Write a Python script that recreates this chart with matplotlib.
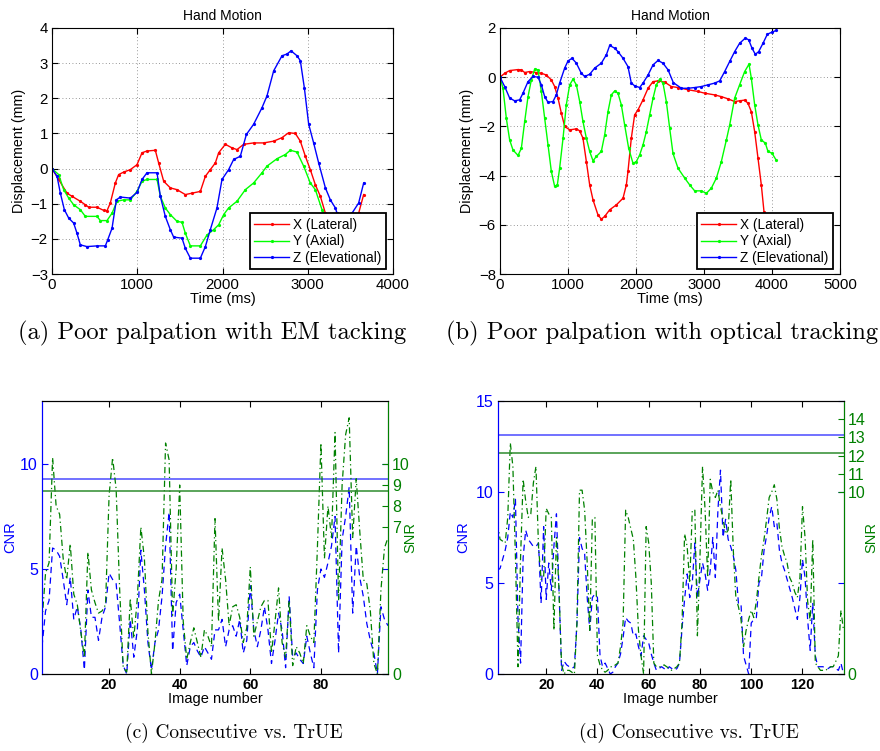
import matplotlib
matplotlib.use("Agg")
import matplotlib.pyplot as plt
import numpy as np

plt.rcParams['font.family'] = ['Liberation Sans', 'DejaVu Sans']

# ---------------- Panel (a): EM tracking ----------------
a_t_x = [0, 78, 176, 235, 332, 391, 430, 528, 606, 645, 684, 743, 782, 841, 919, 997, 1056, 1114, 1212, 1251,
         1310, 1388, 1466, 1564, 1642, 1740, 1799, 1857, 1916, 1955, 2033, 2111, 2170, 2248, 2365, 2483, 2600,
         2698, 2776, 2854, 2913, 2972, 3030, 3089, 3148, 3207, 3300, 3450, 3550, 3597, 3656]
a_x = [0, -0.31, -0.70, -0.79, -0.93, -1.03, -1.10, -1.10, -1.19, -1.20, -0.98, -0.41, -0.17, -0.10, -0.03, 0.11,
       0.45, 0.50, 0.52, 0.16, -0.36, -0.55, -0.60, -0.74, -0.70, -0.65, -0.22, -0.03, 0.16, 0.45, 0.69, 0.59,
       0.54, 0.69, 0.73, 0.73, 0.78, 0.88, 1.02, 1.00, 0.78, 0.35, -0.03, -0.46, -0.79, -1.27, -1.60, -1.80,
       -1.60, -1.27, -0.74]
a_t_y = [0, 78, 137, 196, 254, 332, 391, 528, 567, 645, 704, 763, 841, 919, 997, 1056, 1114, 1232, 1271, 1329,
         1388, 1466, 1525, 1564, 1623, 1740, 1818, 1896, 1955, 2014, 2072, 2170, 2268, 2365, 2463, 2522, 2639,
         2737, 2796, 2874, 2952, 3030, 3089, 3167, 3250, 3350]
a_y = [0, -0.17, -0.60, -0.84, -1.03, -1.17, -1.36, -1.36, -1.48, -1.48, -1.27, -0.93, -0.89, -0.89, -0.65,
       -0.36, -0.31, -0.31, -0.79, -1.12, -1.31, -1.50, -1.53, -1.84, -2.20, -2.20, -1.89, -1.74, -1.60, -1.31,
       -1.12, -0.93, -0.60, -0.41, -0.12, 0.07, 0.28, 0.40, 0.52, 0.47, 0.07, -0.41, -0.60, -1.17, -1.60, -1.90]
a_t_z = [0, 59, 98, 145, 196, 254, 293, 332, 410, 528, 626, 653, 704, 755, 802, 919, 997, 1056, 1114, 1232,
         1271, 1329, 1388, 1427, 1525, 1564, 1623, 1740, 1799, 1857, 1935, 1994, 2072, 2131, 2209, 2280, 2365,
         2463, 2522, 2600, 2698, 2757, 2804, 2874, 2913, 2960, 3011, 3069, 3128, 3207, 3265, 3324, 3343, 3430,
         3519, 3597, 3656]
a_z = [0, -0.22, -0.70, -1.17, -1.41, -1.55, -1.84, -2.17, -2.22, -2.20, -2.20, -2.03, -1.70, -0.89, -0.81,
       -0.84, -0.68, -0.31, -0.12, -0.12, -0.79, -1.36, -1.74, -1.95, -1.98, -2.27, -2.55, -2.55, -2.22, -1.74,
       -1.12, -0.31, -0.03, 0.26, 0.35, 0.97, 1.26, 1.73, 2.07, 2.78, 3.21, 3.26, 3.35, 3.21, 3.07, 2.30, 1.26,
       0.73, 0.16, -0.55, -0.89, -1.12, -1.27, -1.50, -1.27, -0.98, -0.41]

# ---------------- Panel (b): optical tracking ----------------
b_t_x = [0, 69, 142, 265, 314, 363, 436, 534, 608, 681, 755, 804, 853, 902, 951, 1025, 1123, 1172, 1220, 1270,
         1319, 1368, 1441, 1490, 1539, 1613, 1711, 1809, 1858, 1882, 1931, 1980, 2029, 2103, 2177, 2250, 2324,
         2422, 2520, 2618, 2765, 2912, 3010, 3157, 3255, 3353, 3451, 3524, 3598, 3647, 3696, 3745, 3794, 3843,
         3882, 3950]
b_x = [0, 0.16, 0.27, 0.31, 0.30, 0.19, 0.23, 0.19, 0.16, 0.09, -0.11, -0.38, -0.85, -1.46, -2.00, -2.14, -2.10,
       -2.18, -2.48, -3.43, -4.38, -4.99, -5.60, -5.77, -5.66, -5.39, -5.19, -4.92, -4.38, -3.83, -2.48, -1.53,
       -1.33, -0.92, -0.45, -0.18, -0.15, -0.20, -0.38, -0.42, -0.51, -0.58, -0.65, -0.72, -0.79, -0.88, -0.99,
       -0.96, -0.93, -1.06, -1.40, -2.21, -3.29, -4.38, -5.46, -7.30]
b_t_y = [0, 44, 93, 142, 191, 265, 314, 363, 412, 461, 510, 559, 608, 657, 706, 755, 804, 843, 877, 927, 975,
         1025, 1074, 1123, 1172, 1220, 1270, 1319, 1368, 1417, 1490, 1539, 1588, 1637, 1686, 1735, 1784, 1833,
         1892, 1956, 2005, 2054, 2103, 2152, 2201, 2250, 2299, 2348, 2397, 2446, 2495, 2544, 2618, 2716, 2790,
         2863, 2961, 3035, 3108, 3182, 3255, 3329, 3378, 3451, 3524, 3598, 3662, 3696, 3745, 3794, 3843, 3902,
         3941, 4000, 4059]
b_y = [0, -0.45, -1.67, -2.55, -2.96, -3.18, -2.89, -1.80, -0.79, -0.11, 0.33, 0.30, -0.58, -1.67, -2.75, -3.83,
       -4.44, -4.38, -3.70, -2.48, -1.12, -0.31, -0.08, -0.31, -0.99, -1.80, -2.48, -3.02, -3.40, -3.22, -3.02,
       -2.35, -1.40, -0.72, -0.56, -0.65, -1.12, -1.94, -2.89, -3.50, -3.43, -3.16, -2.75, -2.21, -1.53, -0.86,
       -0.31, -0.08, -0.24, -0.99, -2.07, -3.10, -3.70, -4.10, -4.38, -4.62, -4.62, -4.72, -4.51, -4.10, -3.43,
       -2.55, -1.94, -0.85, -0.31, 0.23, 0.53, -0.04, -1.12, -1.94, -2.55, -2.68, -3.02, -3.09, -3.36]
b_t_z = [0, 69, 142, 216, 289, 338, 412, 485, 559, 608, 657, 706, 779, 828, 877, 951, 1000, 1059, 1123, 1196,
         1245, 1319, 1392, 1490, 1564, 1613, 1686, 1735, 1809, 1882, 1931, 1980, 2054, 2103, 2177, 2250, 2324,
         2397, 2471, 2549, 2667, 2765, 2863, 2961, 3059, 3157, 3231, 3304, 3378, 3451, 3524, 3608, 3657, 3706,
         3755, 3804, 3868, 3932, 4000, 4059]
b_z = [0, -0.38, -0.85, -0.96, -0.92, -0.65, -0.18, 0.03, 0.00, -0.31, -0.79, -1.02, -0.99, -0.72, -0.24, 0.37,
       0.66, 0.77, 0.57, 0.16, 0.03, 0.12, 0.37, 0.57, 0.91, 1.29, 1.18, 1.04, 0.77, 0.43, -0.24, -0.35, -0.42,
       -0.24, 0.09, 0.50, 0.68, 0.57, 0.30, -0.22, -0.45, -0.45, -0.42, -0.38, -0.31, -0.24, -0.15, 0.23, 0.64,
       1.04, 1.38, 1.59, 1.52, 1.18, 0.93, 1.04, 1.38, 1.75, 1.83, 1.90]

legend_labels = ['X (Lateral)', 'Y (Axial)', 'Z (Elevational)']

# ---------------- Panel (c) ----------------
c_cnr = [1.3, 3.0, 3.5, 6.0, 5.9, 5.6, 4.5, 3.3, 4.6, 2.6,
         3.2, 2.1, 0.2, 4.0, 2.7, 2.7, 1.6, 2.7, 3.2, 4.8,
         4.5, 4.3, 2.4, 0.4, 0.0, 2.6, 0.8, 2.1, 5.9, 4.0,
         1.5, 0.2, 1.5, 2.1, 3.7, 6.1, 7.7, 1.1, 3.4, 3.8,
         2.1, 0.4, 1.3, 1.5, 1.1, 0.8, 1.3, 1.0, 0.7, 2.1,
         2.1, 2.6, 1.3, 2.1, 2.3, 1.8, 2.6, 1.0, 1.6, 4.2,
         2.1, 1.3, 2.1, 3.2, 2.1, 0.5, 1.6, 2.9, 2.1, 0.3,
         3.7, 0.8, 1.0, 0.7, 0.5, 1.8, 1.0, 0.3, 4.0, 5.0,
         4.6, 5.3, 6.1, 7.5, 1.0, 6.4, 7.5, 8.9, 2.9, 6.1,
         4.6, 3.7, 2.4, 1.6, 1.0, 0.0, 3.2, 2.6, 2.3]
c_snr = [2.5, 4.8, 5.3, 10.3, 8.0, 7.6, 5.5, 4.5, 6.2, 3.8,
         3.3, 2.0, 0.8, 5.8, 4.0, 3.4, 2.9, 3.0, 3.3, 8.5,
         10.3, 8.8, 4.0, 0.3, 0.1, 3.6, 1.7, 3.6, 7.0, 5.5,
         2.0, 0.0, 1.5, 3.5, 4.5, 11.0, 10.2, 2.8, 5.0, 9.0,
         2.5, 0.7, 1.5, 2.2, 1.5, 0.8, 2.1, 1.8, 1.3, 7.4,
         2.5, 6.0, 4.5, 2.3, 3.2, 3.3, 2.7, 1.5, 2.2, 5.1,
         1.8, 2.5, 3.2, 3.5, 3.5, 1.0, 2.5, 4.1, 1.5, 0.8,
         3.5, 0.4, 1.3, 1.0, 0.5, 2.3, 1.8, 1.5, 6.0, 11.0,
         5.5, 8.0, 6.5, 11.5, 3.5, 9.0, 11.4, 12.2, 6.5, 9.3,
         6.8, 4.5, 4.3, 3.0, 0.5, 0.0, 4.0, 6.0, 6.5]
c_cnr_ref = 9.27
c_snr_ref = 8.71

# ---------------- Panel (d) ----------------
d_cnr = [5.7, 5.8, 6.3, 6.8, 7.5, 8.9, 8.6, 9.6, 3.0, 0.6,
         6.4, 7.9, 7.4, 7.2, 7.0, 7.0, 7.2, 3.9, 8.1, 4.1,
         6.1, 4.6, 7.0, 8.8, 4.6, 0.2, 0.7, 0.5, 0.4, 0.3,
         0.4, 2.8, 7.5, 6.9, 6.6, 4.2, 2.4, 4.2, 4.4, 4.2,
         1.0, 0.4, 0.6, 0.3, 0.0, 0.1, 0.4, 0.6, 1.1, 2.0,
         3.1, 2.9, 2.8, 2.1, 2.2, 1.5, 1.0, 2.1, 1.9, 1.7,
         1.1, 0.6, 0.2, 0.3, 0.4, 0.3, 0.2, 0.4, 0.3, 0.2,
         0.3, 0.6, 2.5, 4.1, 5.5, 4.2, 5.0, 7.2, 4.2, 5.2,
         6.1, 5.5, 4.6, 5.7, 7.5, 5.3, 9.0, 11.2, 7.5, 8.5,
         7.4, 7.0, 6.5, 5.7, 3.9, 3.9, 1.0, 0.5, 0.0, 2.8,
         3.0, 3.1, 5.0, 5.3, 6.8, 7.6, 8.6, 9.2, 8.1, 8.3,
         6.8, 6.1, 5.7, 5.2, 4.7, 4.2, 3.6, 3.0, 4.2, 6.3,
         5.3, 3.0, 1.3, 3.9, 1.0, 0.4, 0.4, 0.4, 0.3, 0.3,
         0.4, 0.4, 0.3, 0.2, 0.6, 0.0]
d_snr = [8.3, 7.4, 7.3, 7.2, 8.6, 12.7, 11.4, 6.4, 0.4, 6.4,
         10.7, 9.5, 8.6, 8.8, 10.5, 11.4, 7.0, 5.2, 5.3, 9.1,
         8.8, 8.6, 2.4, 7.5, 4.6, 0.5, 0.0, 0.2, 0.2, 0.1,
         0.0, 2.8, 10.1, 10.1, 9.0, 6.1, 2.4, 8.5, 8.6, 1.0,
         0.5, 0.2, 0.1, 0.2, 0.4, 0.4, 0.5, 0.6, 1.5, 2.8,
         9.0, 8.6, 8.0, 7.4, 5.3, 2.4, 1.0, 0.0, 8.1, 7.2,
         5.0, 0.6, 0.4, 0.4, 0.4, 0.5, 0.4, 0.3, 0.2, 0.3,
         0.4, 0.6, 2.8, 7.7, 7.0, 5.0, 9.0, 9.0, 2.1, 6.4,
         11.4, 9.0, 5.3, 10.7, 10.0, 9.7, 10.1, 9.2, 8.5, 7.7,
         7.9, 10.7, 6.8, 4.2, 3.7, 3.0, 1.5, 2.4, 3.0, 3.5,
         3.1, 4.0, 5.3, 6.5, 7.4, 8.5, 9.7, 10.0, 10.4, 9.6,
         8.0, 7.0, 6.5, 6.1, 5.3, 5.0, 4.5, 4.2, 5.3, 9.2,
         7.5, 4.0, 2.9, 7.4, 0.6, 0.4, 0.2, 0.2, 0.2, 0.3,
         0.4, 0.4, 0.7, 1.0, 3.5, 2.4]
d_cnr_ref = 13.13
d_snr_ref = 12.15

captions = ['(a) Poor palpation with EM tacking', '(b) Poor palpation with optical tracking',
            '(c) Consecutive vs. TrUE', '(d) Consecutive vs. TrUE']

W, H = 880, 751
fig = plt.figure(figsize=(W / 100, H / 100), dpi=100)


def rect(l, r, t, b):
    return [l / W, 1 - b / H, (r - l) / W, (b - t) / H]


def top_panel(l, r, series, xlim, ylim, xticks, yticks, label_x):
    ax = fig.add_axes(rect(l, r, 28, 274))
    for (t, v), c, lab in zip(series, ['#ff0000', '#00ff00', '#0000ff'], legend_labels):
        ax.plot(t, v, color=c, lw=1.0, marker='.', ms=2.6, label=lab)
    ax.set_xlim(*xlim)
    ax.set_ylim(*ylim)
    ax.set_xticks(xticks)
    ax.set_yticks(yticks)
    ax.grid(True, linestyle=(0, (1, 3)), color='#777777', lw=0.6)
    ax.tick_params(direction='in', top=True, right=True, length=4, labelsize=10.8, pad=3)
    ax.set_title('Hand Motion', fontsize=10, pad=6)
    ax.set_xlabel('Time (ms)', fontsize=10.5, labelpad=0)
    ax.set_ylabel('Displacement (mm)', fontsize=10.3)
    ax.yaxis.label.set_va('center')
    ax.yaxis.set_label_coords((label_x - l) / (r - l), 0.5)
    leg = ax.legend(loc='lower right', bbox_to_anchor=(0.979, 0.02), fancybox=False, edgecolor='black',
                    framealpha=1, fontsize=9.8, borderaxespad=0, handlelength=2.6, handletextpad=0.3,
                    labelspacing=0.2, borderpad=0.3)
    leg.get_frame().set_linewidth(1.3)
    for sp in ax.spines.values():
        sp.set_linewidth(0.8)
    return ax


top_panel(52, 393, [(a_t_x, a_x), (a_t_y, a_y), (a_t_z, a_z)], (0, 4000), (-3, 4),
          [0, 1000, 2000, 3000, 4000], range(-3, 5), 19)
top_panel(500, 840, [(b_t_x, b_x), (b_t_y, b_y), (b_t_z, b_z)], (0, 5000), (-8, 2),
          [0, 1000, 2000, 3000, 4000, 5000], range(-8, 3, 2), 467)

BLUE = '#0000ff'
GREEN = '#008000'


def bottom_panel(l, r, cnr, snr, cnr_ref, snr_ref, ylim, cnr_ticks, snr_ticks, xticks, cnr_x, snr_x):
    ax = fig.add_axes(rect(l, r, 401, 674))
    n = np.arange(1, len(cnr) + 1)
    ax.plot(n, cnr, color=BLUE, lw=0.9, linestyle=(0, (5, 3.5)))
    ax.axhline(cnr_ref, color='#4a4aff', lw=1.1)
    ax.set_xlim(1, len(cnr))
    ax.set_ylim(*ylim)
    ax.set_yticks(cnr_ticks)
    ax.set_xticks(xticks)
    ax2 = ax.twinx()
    ax2.plot(n, snr, color=GREEN, lw=0.9, linestyle=(0, (5, 2.5, 1, 2.5)))
    ax2.axhline(snr_ref, color='#2e8b2e', lw=1.1)
    ax2.set_ylim(*ylim)
    ax2.set_yticks(snr_ticks)
    ax.tick_params(axis='x', direction='in', top=True, length=4, labelsize=10.5, pad=3)
    for lab in ax.get_xticklabels():
        lab.set_fontweight('bold')
    ax.tick_params(axis='y', direction='in', length=4, labelsize=11.5, colors=BLUE, right=True, pad=3)
    ax2.tick_params(axis='y', direction='in', length=4, labelsize=11.5, colors=GREEN, pad=3)
    ax.set_xlabel('Image number', fontsize=10.5, labelpad=0)
    ax.set_ylabel('CNR', fontsize=10.5, color=BLUE)
    ax2.set_ylabel('SNR', fontsize=10.5, color=GREEN)
    ax.yaxis.label.set_va('center')
    ax2.yaxis.label.set_va('center')
    w = r - l
    ax.yaxis.set_label_coords((cnr_x - l) / w, 0.5)
    ax2.yaxis.set_label_coords((snr_x - l) / w, 0.5)
    ax2.spines['left'].set_color(BLUE)
    ax.spines['left'].set_color(BLUE)
    ax2.spines['right'].set_color(GREEN)
    for a in (ax, ax2):
        for sp in a.spines.values():
            sp.set_linewidth(0.8)
    return ax, ax2


bottom_panel(42, 388, c_cnr, c_snr, c_cnr_ref, c_snr_ref, (0, 13),
             [0, 5, 10], [0, 7, 8, 9, 10], [20, 40, 60, 80], 10, 410)
bottom_panel(497.5, 843.5, d_cnr, d_snr, d_cnr_ref, d_snr_ref, (0, 15),
             [0, 5, 10, 15], [0, 10, 11, 12, 13, 14], [20, 40, 60, 80, 100, 120], 463, 871)

cap_pos = [(212, 333), (662, 333), (234, 733), (689, 733)]
cap_size = [17.7, 17.7, 14, 14]
for (x, y), txt, fs in zip(cap_pos, captions, cap_size):
    fig.text(x / W, 1 - y / H, txt, ha='center', va='center', family='cmr10', fontsize=fs)

fig.savefig('out.png', dpi=100)
